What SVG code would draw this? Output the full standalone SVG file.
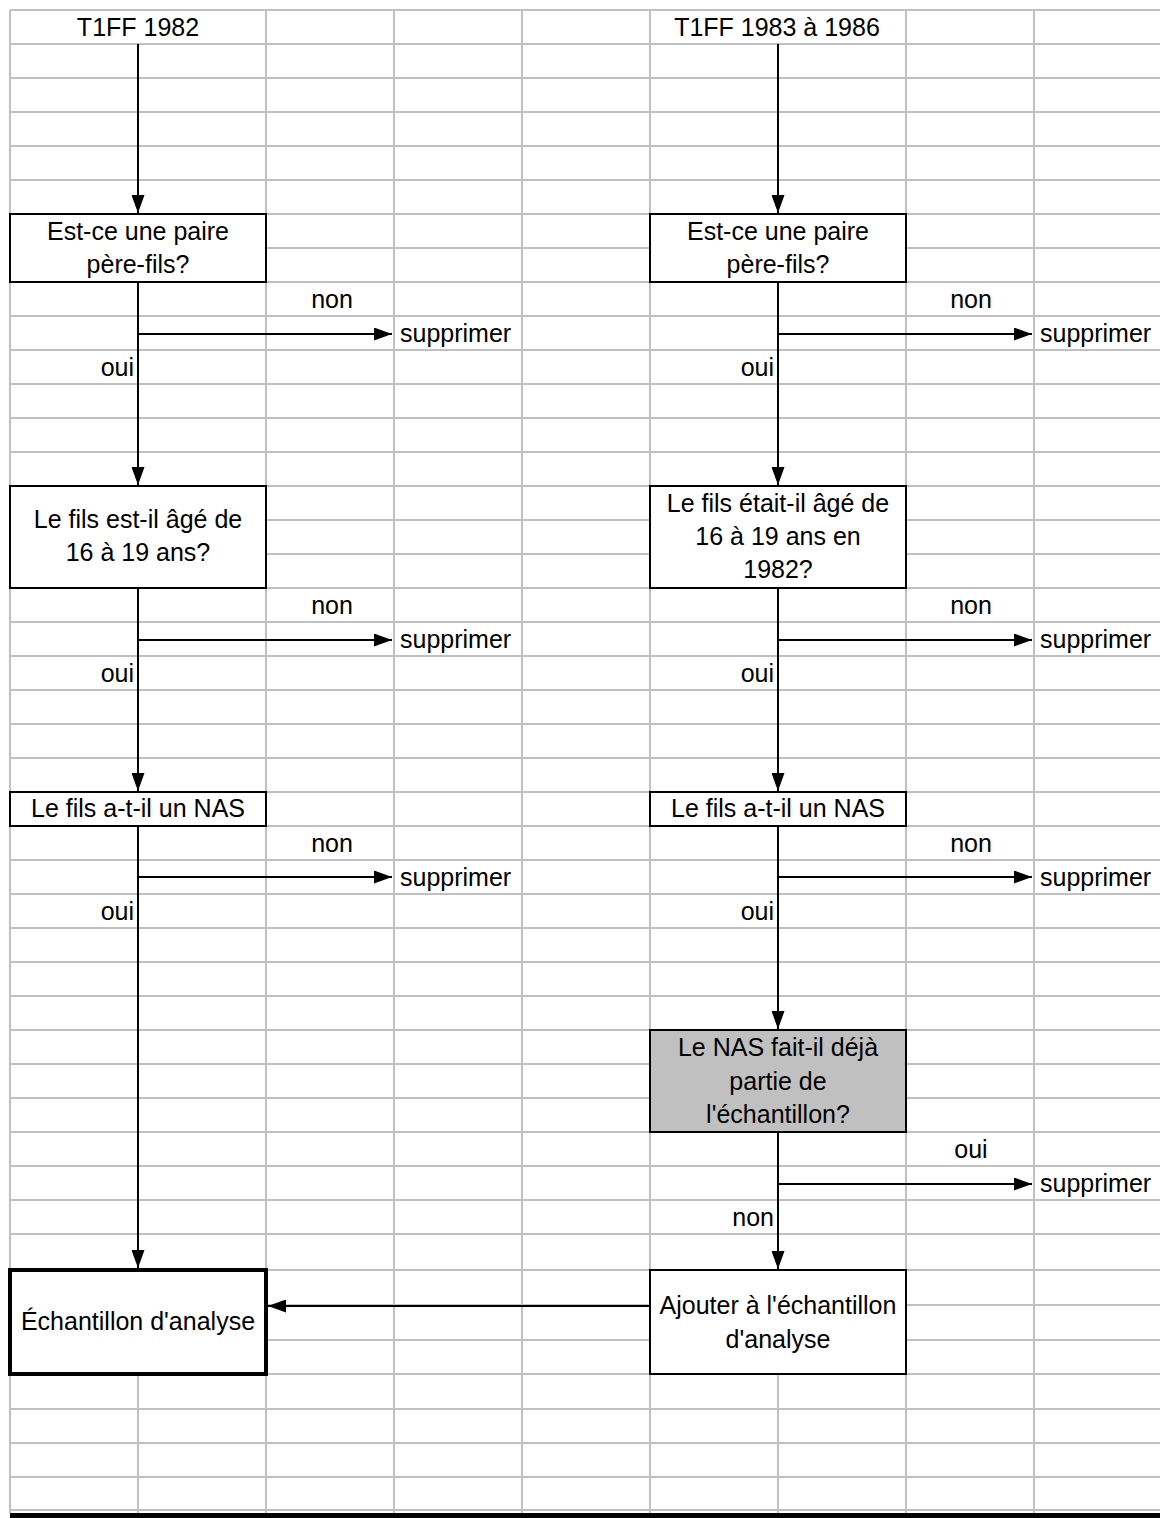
<svg xmlns="http://www.w3.org/2000/svg" width="1160" height="1518" viewBox="0 0 1160 1518">
<defs>
<style>
.grid{stroke:#c0c0c0;stroke-width:2;fill:none}
.box{fill:#ffffff;stroke:#000000;stroke-width:2}
.shade{fill:#c0c0c0}
.thick{stroke-width:4}
.conn{stroke:#000000;stroke-width:2;fill:none}
text{font-family:"Liberation Sans",Arial,Helvetica,sans-serif;font-size:25px;fill:#000000}
.c{text-anchor:middle}
.r{text-anchor:end}
</style>
<marker id="ah" viewBox="0 0 18 13" refX="18" refY="6.5" markerWidth="18" markerHeight="13" markerUnits="userSpaceOnUse" orient="auto">
<path d="M0,0 L18,6.5 L0,13 z" fill="#000000"/>
</marker>
</defs>
<rect x="0" y="0" width="1160" height="1518" fill="#ffffff"/>
<g id="grid" class="grid">
<path d="M10,10H1160M10,44H1160M10,78H1160M10,112H1160M10,146H1160M10,180H1160M10,214H1160M10,248H1160M10,282H1160M10,316H1160M10,350H1160M10,384H1160M10,418H1160M10,452H1160M10,486H1160M10,520H1160M10,554H1160M10,588H1160M10,622H1160M10,656H1160M10,690H1160M10,724H1160M10,758H1160M10,792H1160M10,826H1160M10,860H1160M10,894H1160M10,928H1160M10,962H1160M10,996H1160M10,1030H1160M10,1064H1160M10,1098H1160M10,1132H1160M10,1166H1160M10,1200H1160M10,1234H1160M10,1270H1160M10,1305H1160M10,1340H1160M10,1374H1160M10,1409H1160M10,1443H1160M10,1477H1160M10,1510H1160"/>
<path d="M10,10V1513M138,44V1513M266,10V1513M394,10V1513M522,10V1513M650,10V1513M778,44V1513M906,10V1513M1034,10V1513"/>
</g>
<rect x="10" y="1513" width="1150" height="5" fill="#000000"/>
<g id="title-left"><text class="c" x="138" y="36">T1FF 1982</text></g>
<g id="title-right"><text class="c" x="777" y="36">T1FF 1983 à 1986</text></g>
<g id="connectors">
<path class="conn" d="M138,44V213" marker-end="url(#ah)"/>
<path class="conn" d="M778,44V213" marker-end="url(#ah)"/>
<path class="conn" d="M138,282V485" marker-end="url(#ah)"/>
<path class="conn" d="M778,282V485" marker-end="url(#ah)"/>
<path class="conn" d="M138,334H392" marker-end="url(#ah)"/>
<path class="conn" d="M778,334H1032" marker-end="url(#ah)"/>
<path class="conn" d="M138,588V791" marker-end="url(#ah)"/>
<path class="conn" d="M778,588V791" marker-end="url(#ah)"/>
<path class="conn" d="M138,640H392" marker-end="url(#ah)"/>
<path class="conn" d="M778,640H1032" marker-end="url(#ah)"/>
<path class="conn" d="M138,826V1268" marker-end="url(#ah)"/>
<path class="conn" d="M778,826V1029" marker-end="url(#ah)"/>
<path class="conn" d="M138,877H392" marker-end="url(#ah)"/>
<path class="conn" d="M778,877H1032" marker-end="url(#ah)"/>
<path class="conn" d="M778,1132V1269" marker-end="url(#ah)"/>
<path class="conn" d="M778,1184H1032" marker-end="url(#ah)"/>
<path class="conn" d="M650,1306H268" marker-end="url(#ah)"/>
<text class="c" x="332" y="308">non</text>
<text x="400" y="342">supprimer</text>
<text class="r" x="134" y="376">oui</text>
<text class="c" x="971" y="308">non</text>
<text x="1040" y="342">supprimer</text>
<text class="r" x="774" y="376">oui</text>
<text class="c" x="332" y="614">non</text>
<text x="400" y="648">supprimer</text>
<text class="r" x="134" y="682">oui</text>
<text class="c" x="971" y="614">non</text>
<text x="1040" y="648">supprimer</text>
<text class="r" x="774" y="682">oui</text>
<text class="c" x="332" y="852">non</text>
<text x="400" y="886">supprimer</text>
<text class="r" x="134" y="920">oui</text>
<text class="c" x="971" y="852">non</text>
<text x="1040" y="886">supprimer</text>
<text class="r" x="774" y="920">oui</text>
<text class="c" x="971" y="1158">oui</text>
<text x="1040" y="1192">supprimer</text>
<text class="r" x="774" y="1226">non</text>
</g>
<g id="node-l1">
<rect class="box" x="10" y="214" width="256" height="68"/>
<text class="c" x="138" y="240">Est-ce une paire</text>
<text class="c" x="138" y="273">père-fils?</text>
</g>
<g id="node-r1">
<rect class="box" x="650" y="214" width="256" height="68"/>
<text class="c" x="778" y="240">Est-ce une paire</text>
<text class="c" x="778" y="273">père-fils?</text>
</g>
<g id="node-l2">
<rect class="box" x="10" y="486" width="256" height="102"/>
<text class="c" x="138" y="528">Le fils est-il âgé de</text>
<text class="c" x="138" y="561">16 à 19 ans?</text>
</g>
<g id="node-r2">
<rect class="box" x="650" y="486" width="256" height="102"/>
<text class="c" x="778" y="512">Le fils était-il âgé de</text>
<text class="c" x="778" y="545">16 à 19 ans en</text>
<text class="c" x="778" y="578">1982?</text>
</g>
<g id="node-l3">
<rect class="box" x="10" y="792" width="256" height="34"/>
<text class="c" x="138" y="817">Le fils a-t-il un NAS</text>
</g>
<g id="node-r3">
<rect class="box" x="650" y="792" width="256" height="34"/>
<text class="c" x="778" y="817">Le fils a-t-il un NAS</text>
</g>
<g id="node-r4">
<rect class="box shade" x="650" y="1030" width="256" height="102"/>
<text class="c" x="778" y="1056">Le NAS fait-il déjà</text>
<text class="c" x="778" y="1090">partie de</text>
<text class="c" x="778" y="1123">l'échantillon?</text>
</g>
<g id="node-l5">
<rect class="box thick" x="10" y="1270" width="256" height="104"/>
<text class="c" x="138" y="1330">Échantillon d'analyse</text>
</g>
<g id="node-r5">
<rect class="box" x="650" y="1270" width="256" height="104"/>
<text class="c" x="778" y="1314">Ajouter à l'échantillon</text>
<text class="c" x="778" y="1348">d'analyse</text>
</g>
</svg>
